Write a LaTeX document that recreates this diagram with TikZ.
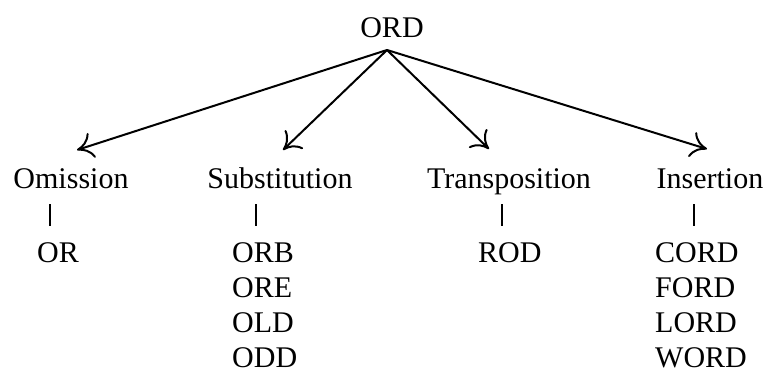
\documentclass[tikz,border=0pt]{standalone}
\usepackage{fontspec}
\setmainfont{Liberation Serif}
\usetikzlibrary{arrows.meta}

\begin{document}
\begin{tikzpicture}[x=1pt,y=-1pt,
  word/.style={inner sep=0pt,font=\fontsize{30}{36}\selectfont},
  branch/.style={line width=2pt,
    -{Computer Modern Rightarrow[length=16pt,width=26pt,line width=2pt]}},
  bar/.style={line width=2.2pt}]
  \useasboundingbox (0,0) rectangle (766,380);

  % root word and the point where its branches meet
  \node[word,anchor=base] (root) at (392,37) {ORD};
  \coordinate (hub) at (387,50);

  % kinds of spelling error
  \node[word,anchor=base] (om)  at (71,188)  {Omission};
  \node[word,anchor=base] (sub) at (280,188) {Substitution};
  \node[word,anchor=base] (tra) at (509,188) {Transposition};
  \node[word,anchor=base] (ins) at (710,188) {Insertion};

  % arrow tips just above each label
  \coordinate (tOm)  at (77,150);
  \coordinate (tSub) at (283,150);
  \coordinate (tTra) at (489,149);
  \coordinate (tIns) at (707,149);

  \draw[branch] (hub) -- (tOm);
  \draw[branch] (hub) -- (tSub);
  \draw[branch] (hub) -- (tTra);
  \draw[branch] (hub) -- (tIns);

  % misspelled forms
  \node[word,anchor=base west] (or)   at (37,262)  {OR};

  \node[word,anchor=base west] (orb)  at (232,262) {ORB};
  \node[word,anchor=base west] (ore)  at (232,297) {ORE};
  \node[word,anchor=base west] (old)  at (232,332) {OLD};
  \node[word,anchor=base west] (odd)  at (232,367) {ODD};

  \node[word,anchor=base west] (rod)  at (478,262) {ROD};

  \node[word,anchor=base west] (cord) at (655,262) {CORD};
  \node[word,anchor=base west] (ford) at (655,297) {FORD};
  \node[word,anchor=base west] (lord) at (655,332) {LORD};
  \node[word,anchor=base west] (word) at (655,367) {WORD};

  % short bars from each label to its forms
  \coordinate (bOmT)  at (50,204);  \coordinate (bOmB)  at (50,226);
  \coordinate (bSubT) at (256,204); \coordinate (bSubB) at (256,226);
  \coordinate (bTraT) at (502,204); \coordinate (bTraB) at (502,226);
  \coordinate (bInsT) at (694,204); \coordinate (bInsB) at (694,226);

  \draw[bar] (bOmT) -- (bOmB);
  \draw[bar] (bSubT) -- (bSubB);
  \draw[bar] (bTraT) -- (bTraB);
  \draw[bar] (bInsT) -- (bInsB);
\end{tikzpicture}
\end{document}
